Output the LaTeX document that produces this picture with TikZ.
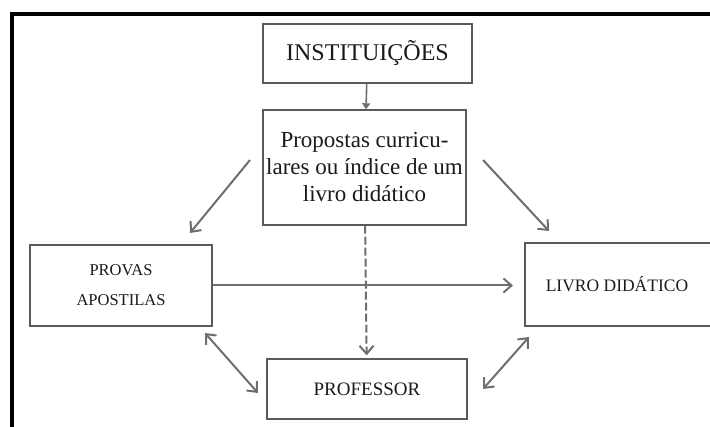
\documentclass[tikz,border=0pt]{standalone}
\usepackage{fontspec}
\setmainfont{Liberation Serif}
\usetikzlibrary{arrows.meta}

\definecolor{boxgray}{HTML}{5A5A5A}
\definecolor{arrowgray}{HTML}{6E6E6E}
\definecolor{textgray}{HTML}{1A1A1A}

\tikzset{
  caixa/.style={draw=boxgray, line width=1.4pt, align=center, text=textgray, inner sep=0pt},
  seta/.style={draw=arrowgray, line width=2pt, -{Straight Barb[length=8pt,width=14pt]}},
  setadupla/.style={draw=arrowgray, line width=2pt, {Straight Barb[length=8pt,width=14pt]}-{Straight Barb[length=8pt,width=14pt]}}
}

\begin{document}
\begin{tikzpicture}[x=1pt,y=-1pt]

        \useasboundingbox (0,0) rectangle (710,427);

        % moldura
        \draw[line width=4pt, black] (12,427) -- (12,14) -- (712,14);

        \begin{scope}[every node/.style={caixa}]
          \node (inst) [minimum width=209pt, minimum height=59pt,
            font=\fontsize{24}{26}\selectfont] at (367.5,53.5) {INSTITUIÇÕES};
          \node (prop) [minimum width=203pt, minimum height=115pt,
            font=\fontsize{23}{27}\selectfont] at (364.5,167.5)
            {Propostas curricu-\\lares ou índice de um\\livro didático};
          \node (provas) [minimum width=182pt, minimum height=81pt,
            font=\fontsize{16.5}{30}\selectfont] at (121,285.5) {PROVAS\\APOSTILAS};
          \node (livro) [minimum width=192pt, minimum height=83pt,
            font=\fontsize{17.5}{20}\selectfont] at (621,284.5) {\hspace*{-8pt}LIVRO DIDÁTICO};
          \node (prof) [minimum width=200pt, minimum height=60pt,
            font=\fontsize{19}{20}\selectfont] at (367,389) {PROFESSOR};
        \end{scope}

        % pontas soltas das setas
        \coordinate (pl1) at (250,160);
        \coordinate (pl2) at (190,233);
        \coordinate (pr1) at (483,160);
        \coordinate (pr2) at (549,231);
        \coordinate (hz) at (513,285.5);
        \coordinate (dl1) at (205,333);
        \coordinate (dl2) at (258,393);
        \coordinate (dr1) at (529,337);
        \coordinate (dr2) at (483,389);

        \begin{scope}
          \path[seta, line width=1.6pt, -{Triangle[length=6pt,width=8pt]}] (inst) -- (prop);
          \path[seta] (pl1) -- (pl2);
          \path[seta] (pr1) -- (pr2);
          \path[seta] (provas) -- (hz);
          \path[seta, dashed, dash pattern=on 8pt off 3pt, shorten >=3pt] (prop) -- (prof);
          \path[setadupla] (dl1) -- (dl2);
          \path[setadupla] (dr1) -- (dr2);
        \end{scope}

      \end{tikzpicture}
\end{document}
